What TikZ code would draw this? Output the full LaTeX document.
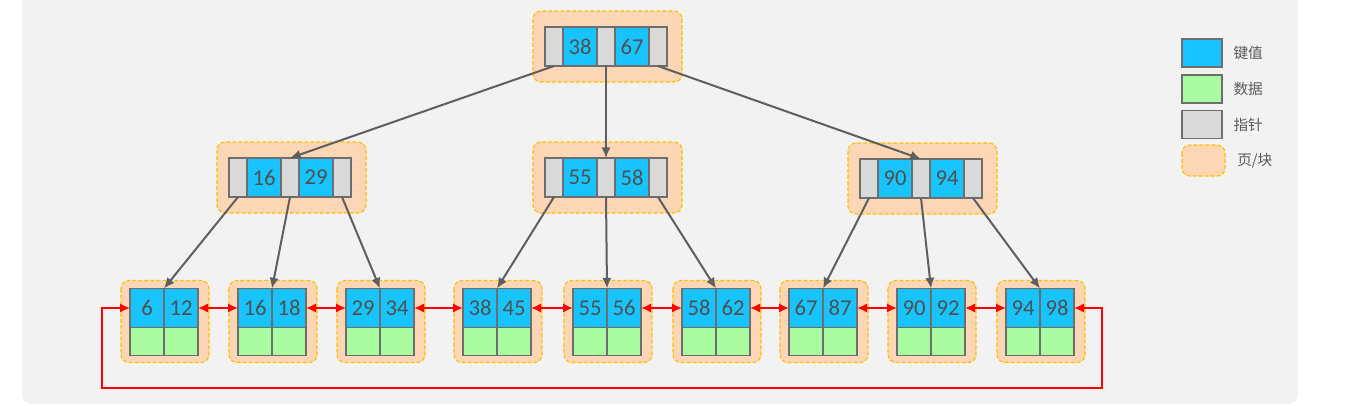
\documentclass[tikz,border=0pt]{standalone}
\usepackage{fontspec}
\newfontfamily\numfont{Carlito}
\newfontfamily\cjkfont{Noto Sans CJK SC}
\usetikzlibrary{positioning,arrows.meta}
\definecolor{keyblue}{RGB}{24,196,255}
\definecolor{datagreen}{RGB}{170,250,160}
\definecolor{ptrgray}{RGB}{217,217,217}
\definecolor{pagefill}{RGB}{252,214,181}
\definecolor{pageline}{RGB}{255,192,0}
\definecolor{cellline}{RGB}{110,110,110}
\definecolor{bggray}{RGB}{242,242,242}
\definecolor{treeline}{RGB}{95,95,95}
\definecolor{numgray}{RGB}{80,80,80}
\definecolor{legendtext}{RGB}{89,89,89}

\tikzset{
  cell/.style={draw=cellline, line width=0.9pt, inner sep=0pt, outer sep=0pt,
    minimum height=29.25pt, text=numgray, font=\numfont\fontsize{17}{17}\selectfont},
  keycell/.style={cell, fill=keyblue, minimum width=25.5pt},
  ptrcell/.style={cell, fill=ptrgray, minimum width=13.5pt},
  datacell/.style={cell, fill=datagreen, minimum width=25.5pt, minimum height=21pt},
  pagebox/.style={draw=pageline, fill=pagefill, line width=0.9pt,
    dash pattern=on 3pt off 1.5pt, rounded corners=6pt},
  treearrow/.style={draw=treeline, line width=1.5pt, -{Latex[length=8pt,width=7pt]}},
  linkarrow/.style={draw=red, line width=1.6pt,
    {Latex[length=7.5pt,width=7pt]}-{Latex[length=7.5pt,width=7pt]}},
  legendbox/.style={draw=cellline, line width=0.9pt, minimum width=30pt, minimum height=21pt},
  legendlabel/.style={inner sep=0pt, text=legendtext, font=\cjkfont\fontsize{11}{12}\selectfont}
}

\begin{document}
\begin{tikzpicture}[x=0.75pt, y=-0.75pt]
  \useasboundingbox (0,0) rectangle (1356,405);
  \clip (0,0) rectangle (1356,405);
  \fill[bggray, rounded corners=7pt] (22,-20) rectangle (1298,404);

  % inner pages: root and second level
  \foreach \nm/\x/\y/\ka/\kb in {r/545/46.5/38/67, a/229/177.5/16/29, b/545/177.5/55/58, c/860/178.5/90/94} {
    \draw[pagebox] (\x-12,\y-35.5) rectangle (\x+137,\y+35.5);
    \node[ptrcell, anchor=west] (\nm-p0) at (\x,\y) {};
    \node[keycell, right=0pt of \nm-p0] (\nm-k1) {\ka};
    \node[ptrcell, right=0pt of \nm-k1] (\nm-p1) {};
    \node[keycell, right=0pt of \nm-p1] (\nm-k2) {\kb};
    \node[ptrcell, right=0pt of \nm-k2] (\nm-p2) {};
  }

  % leaf pages
  \foreach \i/\x/\ka/\kb in {1/130/6/12, 2/238/16/18, 3/346/29/34, 4/463/38/45, 5/573/55/56,
                             6/682/58/62, 7/789/67/87, 8/897/90/92, 9/1006/94/98} {
    \draw[pagebox] (\x-9,280.5) rectangle (\x+79,362.5);
    \node[keycell, anchor=north west] (l\i-k1) at (\x,288.5) {\ka};
    \node[keycell, right=0pt of l\i-k1] (l\i-k2) {\kb};
    \node[datacell, below=0pt of l\i-k1] (l\i-d1) {};
    \node[datacell, below=0pt of l\i-k2] (l\i-d2) {};
  }

  % pointers
  \draw[treearrow] (r-p0.south) -- (a-p1.north);
  \draw[treearrow] (r-p1.south) -- (b-p1.north);
  \draw[treearrow] (r-p2.south) -- (c-p1.north);
  \draw[treearrow] (a-p0.south) -- (l1-k1.north east);
  \draw[treearrow] (a-p1.south) -- (l2-k1.north east);
  \draw[treearrow] (a-p2.south) -- (l3-k1.north east);
  \draw[treearrow] (b-p0.south) -- (l4-k1.north east);
  \draw[treearrow] (b-p1.south) -- (l5-k1.north east);
  \draw[treearrow] (b-p2.south) -- (l6-k1.north east);
  \draw[treearrow] (c-p0.south) -- (l7-k1.north east);
  \draw[treearrow] (c-p1.south) -- (l8-k1.north east);
  \draw[treearrow] (c-p2.south) -- (l9-k1.north east);

  % leaf links
  \foreach \i/\j in {1/2, 2/3, 3/4, 4/5, 5/6, 6/7, 7/8, 8/9}
    \draw[linkarrow] (l\i-k2.east) -- (l\j-k1.west);
  \coordinate (loopR) at (1102,388);
  \coordinate (loopL) at (102,388);
  \draw[linkarrow] (l9-k2.east) -| (loopR) -- (loopL) |- (l1-k1.west);

  % legend
  \node[legendbox, fill=keyblue] (lg-key) at (1202,53) {};
  \node[legendbox, fill=datagreen] (lg-data) at (1202,89) {};
  \node[legendbox, fill=ptrgray] (lg-ptr) at (1202,124.5) {};
  \draw[pagebox] (1182,145) rectangle (1225,176);
  \coordinate (lg-page) at (1225,160.5);
  \node[legendlabel, right=8pt of lg-key] {键值};
  \node[legendlabel, right=8pt of lg-data] {数据};
  \node[legendlabel, right=8pt of lg-ptr] {指针};
  \node[legendlabel, right=9pt of lg-page] {页/块};
\end{tikzpicture}
\end{document}
